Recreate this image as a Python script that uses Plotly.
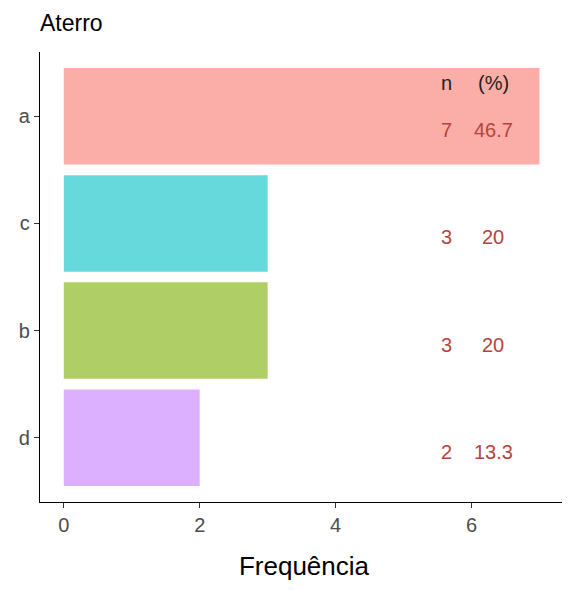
import plotly.graph_objects as go

categories = ["d", "b", "c", "a"]
counts = [2, 3, 3, 7]
percents = ["13.3", "20", "20", "46.7"]
colors = ["#DDB0FF", "#B0CE66", "#66D9DC", "#FBADA7"]

FONT = "Liberation Sans, Arial"

fig = go.Figure()
fig.add_trace(go.Bar(
    x=counts, y=categories, orientation="h",
    marker=dict(color=colors, line=dict(width=0)),
    width=0.9, showlegend=False, hoverinfo="skip",
))

# n and (%) columns
anns = [
    dict(x=5.63, y=3.31, text="n", font=dict(color="#222222", size=20)),
    dict(x=6.32, y=3.31, text="(%)", font=dict(color="#222222", size=20)),
]
for i, (n, p) in enumerate(zip(counts, percents)):
    anns.append(dict(x=5.63, y=i - 0.13, text=str(n), font=dict(color="#B5443E", size=20)))
    anns.append(dict(x=6.32, y=i - 0.13, text=p, font=dict(color="#B5443E", size=20)))
for a in anns:
    a.update(xref="x", yref="y", showarrow=False, xanchor="center", yanchor="middle")
    a["font"]["family"] = FONT

# page body has an 8px margin, so the figure is sized to fit the window
fig.update_layout(
    width=562, height=582,
    paper_bgcolor="white", plot_bgcolor="white",
    margin=dict(l=32, r=2, t=44, b=88),
    font=dict(family=FONT),
    title=dict(text="Aterro", x=0, xref="paper", y=0.975, yref="container",
               xanchor="left", yanchor="middle",
               font=dict(size=23, color="black", family=FONT)),
    annotations=anns,
    xaxis=dict(range=[-0.35, 7.42], tickvals=[0, 2, 4, 6], showgrid=False, zeroline=False,
               showline=True, linecolor="black", linewidth=1.3,
               ticks="outside", ticklen=5, tickcolor="#333333",
               tickfont=dict(size=20, color="#4D4D4D"),
               title=dict(text="Frequência", font=dict(size=26, color="black"), standoff=21)),
    yaxis=dict(range=[-0.6, 3.6], categoryorder="array", categoryarray=categories,
               showgrid=False, zeroline=False,
               showline=True, linecolor="black", linewidth=1.3,
               ticks="outside", ticklen=5, tickcolor="#333333",
               tickfont=dict(size=20, color="#4D4D4D")),
)

fig.write_html("out.html")
